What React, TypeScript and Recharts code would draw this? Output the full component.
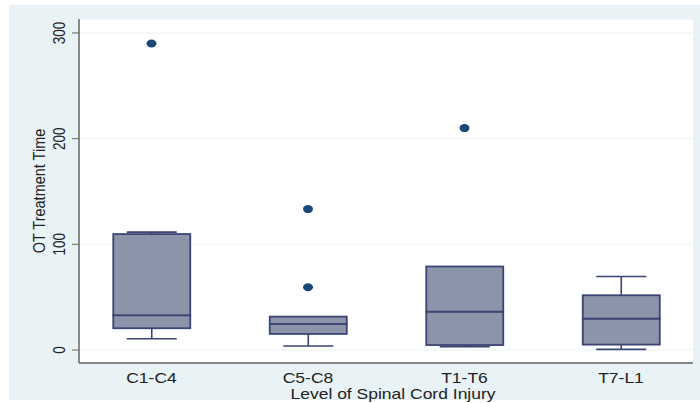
import { ComposedChart, Bar, Scatter, XAxis, YAxis, CartesianGrid } from 'recharts';

// Box plot of OT treatment time by injury level (Stata-style look)
const levels = ['C1-C4', 'C5-C8', 'T1-T6', 'T7-L1'];
const positions = [1, 2, 3, 4];
const lowWhisker = [10.7, 3.8, 3.2, 0.6];
const q1 = [20.6, 15.2, 4.7, 5.1];
const median = [32.9, 24.6, 36.3, 29.7];
const q3 = [109.7, 31.6, 79, 51.8];
const highWhisker = [111.5, 31.6, 79, 69.5];

const outlierPos = [1, 2, 2, 3];
const outlierVal = [290, 133.3, 59.4, 210];

const yTicks = [0, 100, 200, 300];

const BOX_FILL = '#8b94a9';
const BOX_STROKE = '#3b4574';
const DOT = '#1b4878';
const TEXT = '#222';
const FONT = '"Liberation Sans", Arial, sans-serif';
const STRETCH = 1.25;
const CAP = 50;

const boxRows = positions.map((pos, i) => ({
  pos,
  base: lowWhisker[i],
  lowW: q1[i] - lowWhisker[i],
  boxLo: median[i] - q1[i],
  boxHi: q3[i] - median[i],
  highW: highWhisker[i] - q3[i],
}));

const outlierRows = outlierPos.map((pos, i) => ({ pos, y: outlierVal[i] }));

type ShapeProps = { x?: number; y?: number; width?: number; height?: number };

function LowWhisker({ x = 0, y = 0, width = 0, height = 0 }: ShapeProps) {
  const cx = x + width / 2;
  return (
    <g stroke={BOX_STROKE} strokeWidth={1.6}>
      <line x1={cx} x2={cx} y1={y} y2={y + height} />
      <line x1={cx - CAP / 2} x2={cx + CAP / 2} y1={y + height} y2={y + height} />
    </g>
  );
}

function HighWhisker({ x = 0, y = 0, width = 0, height = 0 }: ShapeProps) {
  if (height < 0.5) return null;
  const cx = x + width / 2;
  return (
    <g stroke={BOX_STROKE} strokeWidth={1.6}>
      <line x1={cx} x2={cx} y1={y} y2={y + height} />
      <line x1={cx - CAP / 2} x2={cx + CAP / 2} y1={y} y2={y} />
    </g>
  );
}

function BoxPart({ x = 0, y = 0, width = 0, height = 0 }: ShapeProps) {
  return <rect x={x} y={y} width={width} height={height} fill={BOX_FILL} stroke={BOX_STROKE} strokeWidth={1.8} />;
}

function Dot({ cx = 0, cy = 0 }: { cx?: number; cy?: number }) {
  return <ellipse cx={cx} cy={cy} rx={5} ry={4} fill={DOT} />;
}

function XTick({ x = 0, y = 0, payload }: { x?: number; y?: number; payload?: { value: number } }) {
  const label = levels[(payload?.value ?? 1) - 1];
  return (
    <g transform={`translate(${x},${y}) scale(${STRETCH},1)`}>
      <text textAnchor="middle" dy={12} fontSize={14} fontFamily={FONT} fill={TEXT}>{label}</text>
    </g>
  );
}

function YTick({ x = 0, y = 0, payload }: { x?: number; y?: number; payload?: { value: number } }) {
  return (
    <g transform={`translate(${x - 11},${y}) scale(${STRETCH},1) rotate(-90)`}>
      <text textAnchor="middle" dy="0.36em" fontSize={13.5} fontFamily={FONT} fill={TEXT}>{payload?.value}</text>
    </g>
  );
}

function XLabel({ viewBox }: { viewBox?: { x: number; y: number; width: number; height: number } }) {
  if (!viewBox) return null;
  const cx = viewBox.x + viewBox.width / 2 + 7;
  return (
    <g transform={`translate(${cx},${viewBox.y + 36}) scale(${STRETCH},1)`}>
      <text textAnchor="middle" fontSize={14} fontFamily={FONT} fill={TEXT}>Level of Spinal Cord Injury</text>
    </g>
  );
}

function YLabel({ viewBox }: { viewBox?: { x: number; y: number; width: number; height: number } }) {
  if (!viewBox) return null;
  const cy = viewBox.y + viewBox.height / 2;
  return (
    <g transform={`translate(39,${cy}) scale(1.2,1) rotate(-90)`}>
      <text textAnchor="middle" dy="0.36em" fontSize={14.5} fontFamily={FONT} fill={TEXT}>OT Treatment Time</text>
    </g>
  );
}

export default function App() {
  return (
    <div style={{ position: 'relative', width: 700, height: 403, background: '#fff' }}>
      <style>{'body{margin:0}'}</style>
      <div style={{ position: 'absolute', left: 9, top: 5, width: 691, height: 395, background: '#e9f2f4' }} />
      <div style={{ position: 'absolute', left: 0, top: 0 }}>
        <ComposedChart width={700} height={403} data={boxRows} margin={{ top: 19, right: 7, bottom: 0, left: 0 }}>
          <CartesianGrid vertical={false} stroke="#edf3f4" fill="#fff" />
          <XAxis
            type="number"
            dataKey="pos"
            domain={[0.5367, 4.46]}
            ticks={positions}
            allowDataOverflow
            height={40}
            tickLine={false}
            axisLine={{ stroke: '#666', strokeWidth: 1.5 }}
            tick={<XTick />}
            label={<XLabel />}
          />
          <YAxis
            type="number"
            domain={[-12.3, 313.2]}
            ticks={yTicks}
            allowDataOverflow
            width={79}
            tickSize={7}
            tickLine={{ stroke: '#666' }}
            axisLine={{ stroke: '#666', strokeWidth: 1.5 }}
            tick={<YTick />}
            label={<YLabel />}
          />
          <Bar dataKey="base" stackId="box" barSize={77} fill="none" isAnimationActive={false} shape={() => <g />} />
          <Bar dataKey="lowW" stackId="box" barSize={77} isAnimationActive={false} shape={<LowWhisker />} />
          <Bar dataKey="boxLo" stackId="box" barSize={77} isAnimationActive={false} shape={<BoxPart />} />
          <Bar dataKey="boxHi" stackId="box" barSize={77} isAnimationActive={false} shape={<BoxPart />} />
          <Bar dataKey="highW" stackId="box" barSize={77} isAnimationActive={false} shape={<HighWhisker />} />
          <Scatter data={outlierRows} dataKey="y" isAnimationActive={false} shape={<Dot />} />
        </ComposedChart>
      </div>
    </div>
  );
}
